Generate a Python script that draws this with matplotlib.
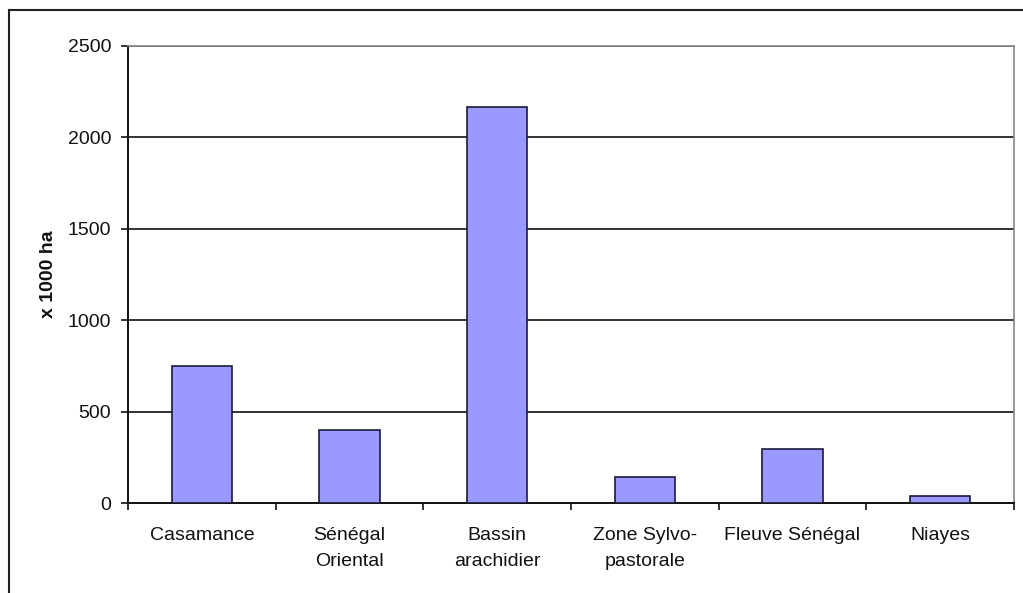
import matplotlib
matplotlib.use("Agg")
import matplotlib.pyplot as plt
from matplotlib.patches import Rectangle

plt.rcParams['font.family'] = ['Liberation Sans', 'DejaVu Sans']

categories = ["Casamance", "Sénégal\nOriental", "Bassin\narachidier",
              "Zone Sylvo-\npastorale", "Fleuve Sénégal", "Niayes"]
values = [750, 400, 2165, 142, 295, 40]
yticks = [0, 500, 1000, 1500, 2000, 2500]
ylabel = "x 1000 ha"

W, H = 1023, 593
fig = plt.figure(figsize=(W / 100, H / 100), dpi=100)
fig.patch.set_facecolor("white")

# outer chart frame
fig.patches.append(Rectangle((9 / W, -0.05), 1.2, 1 - 10 / H + 0.05,
                             transform=fig.transFigure, fill=False,
                             edgecolor="#222222", linewidth=1.5))

ax = fig.add_axes([128 / W, 1 - 503 / H, (1014 - 128) / W, (503 - 46) / H])
x = list(range(len(categories)))
ax.bar(x, values, width=0.41, color="#9999FF", edgecolor="#1a1a3a",
       linewidth=1.2, zorder=3)

ax.set_xlim(-0.5, len(categories) - 0.5)
ax.set_ylim(0, 2500)
ax.set_yticks(yticks)
ax.set_yticklabels([str(t) for t in yticks], fontsize=14, color="#111111")
ax.yaxis.grid(True, color="#111111", linewidth=1.2, zorder=0)
ax.set_axisbelow(True)

ax.set_xticks([i - 0.5 for i in range(len(categories) + 1)], minor=False)
ax.set_xticklabels([""] * (len(categories) + 1))
ax.set_xticks(x, minor=True)
ax.set_xticklabels(categories, minor=True, fontsize=14, color="#111111",
                   linespacing=1.75)
ax.tick_params(axis="x", which="minor", length=0, pad=17)
ax.tick_params(axis="x", which="major", length=5, width=1.2, direction="out",
               color="#111111")
ax.tick_params(axis="y", length=5, width=1.2, direction="out", pad=7,
               color="#111111")

for s in ["left", "bottom"]:
    ax.spines[s].set_color("#111111")
    ax.spines[s].set_linewidth(1.4)
for s in ["top", "right"]:
    ax.spines[s].set_color("#888888")
    ax.spines[s].set_linewidth(1.2)

ax.set_ylabel(ylabel, fontsize=14, fontweight="bold", color="#111111",
              labelpad=7.5)

fig.savefig("out.png", dpi=100)
